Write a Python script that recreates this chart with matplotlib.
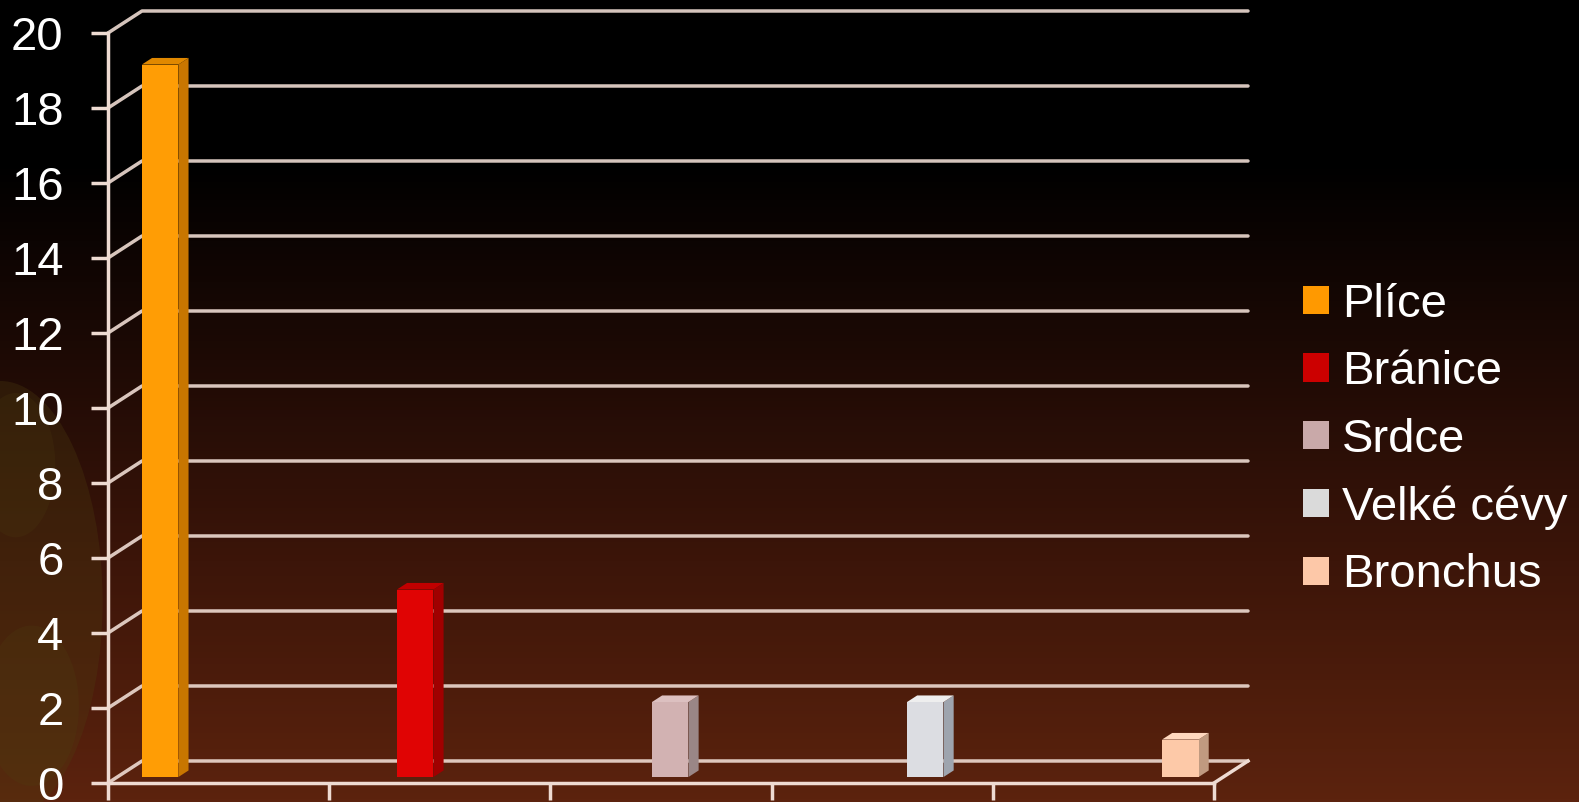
import matplotlib
matplotlib.use('Agg')
import matplotlib.pyplot as plt
from matplotlib.patches import Polygon, Patch, Ellipse
from matplotlib.colors import LinearSegmentedColormap
import numpy as np

# data
labels = ['Plíce', 'Bránice', 'Srdce', 'Velké cévy', 'Bronchus']
values = [19, 5, 2, 2, 1]
legend_colors = ['#ff9900', '#cc0000', '#c9a9a9', '#dadada', '#fdc8a8']
front_colors = ['#ff9d05', '#e00404', '#d2b2b2', '#dcdde2', '#fdc9a8']
side_colors = ['#c87600', '#a00000', '#9a8686', '#9ea4ae', '#c09a80']
top_colors = ['#e08800', '#c00000', '#dcc0c0', '#eeeeee', '#ffd8bf']
yticks = list(range(0, 21, 2))

n = len(values)
# oblique depth of the 3d box, in data units
DX, DY = 0.1537, 0.587
slot = 0.153
bar_w = 0.165
d0, d1 = 0.27, 0.57   # bar depth range as fraction of box depth

fig = plt.figure(figsize=(15.79, 8.02), dpi=100)

# background gradient (row 0 = top)
bg = fig.add_axes([0, 0, 1, 1], zorder=-2)
cmap = LinearSegmentedColormap.from_list('bg', [(0, '#000000'), (0.2, '#000000'), (0.45, '#1e0a05'),
                                                 (0.7, '#3c1509'), (1.0, '#5c230e')])
grad = np.linspace(0, 1, 256).reshape(-1, 1)
bg.imshow(grad, aspect='auto', cmap=cmap, extent=[0, 1, 0, 1], origin='upper')
# faint olive decoration on the left
for (cx, cy, w, h, a) in [(0.0, 0.25, 0.13, 0.55, 0.3), (0.02, 0.12, 0.06, 0.2, 0.25),
                          (0.01, 0.42, 0.05, 0.18, 0.2)]:
    bg.add_patch(Ellipse((cx, cy), w, h, color='#4e3e10', alpha=a, lw=0))
bg.set_xlim(0, 1)
bg.set_ylim(0, 1)
bg.axis('off')

ax = fig.add_axes([108/1579, 19/802, 1106/1579, 750/802])
ax.set_facecolor('none')
ax.set_xlim(0, n)
ax.set_ylim(0, 20)

gc = '#eedbd2'
for v in yticks:
    ax.plot([0, DX, n + DX], [v, v + DY, v + DY], color=gc, lw=2.5, alpha=0.9,
            clip_on=False, zorder=1, solid_capstyle='round')
ax.plot([n, n + DX], [0, DY], color=gc, lw=2.5, clip_on=False, zorder=1)

# bars, series k sits in category k (clustered layout)
for k in range(n):
    c = k + 0.5 + (k - (n - 1) / 2) * slot
    x0, x1 = c - bar_w / 2, c + bar_w / 2
    ox, oy = d0 * DX, d0 * DY
    bx, by = (d1 - d0) * DX, (d1 - d0) * DY
    v = values[k]
    front = [(x0 + ox, oy), (x1 + ox, oy), (x1 + ox, v + oy), (x0 + ox, v + oy)]
    side = [(x1 + ox, oy), (x1 + ox + bx, oy + by), (x1 + ox + bx, v + oy + by), (x1 + ox, v + oy)]
    top = [(x0 + ox, v + oy), (x1 + ox, v + oy), (x1 + ox + bx, v + oy + by), (x0 + ox + bx, v + oy + by)]
    ax.add_patch(Polygon(side, closed=True, color=side_colors[k], lw=0, zorder=3, clip_on=False))
    ax.add_patch(Polygon(front, closed=True, color=front_colors[k], lw=0, zorder=3, clip_on=False))
    ax.add_patch(Polygon(top, closed=True, color=top_colors[k], lw=0, zorder=3, clip_on=False))

for s in ['top', 'right']:
    ax.spines[s].set_visible(False)
for s in ['left', 'bottom']:
    ax.spines[s].set_color(gc)
    ax.spines[s].set_linewidth(2.5)

ax.set_xticks(range(n + 1))
ax.set_xticklabels([])
ax.set_yticks(yticks)
ax.set_yticklabels([str(t) for t in yticks], fontsize=34, color='white', family='Liberation Sans')
ax.tick_params(axis='both', direction='out', length=12, width=2.5, color=gc)
ax.tick_params(axis='y', pad=20)

handles = [Patch(facecolor=legend_colors[i], edgecolor='none') for i in range(n)]
leg = fig.legend(handles, labels, loc='center left', bbox_to_anchor=(1303/1579, 1 - 440/802),
                 frameon=False, labelcolor='white', borderaxespad=0, borderpad=0,
                 handlelength=0.55, handleheight=0.55, handletextpad=0.27, labelspacing=0.5,
                 prop={'family': 'Liberation Sans', 'size': 34})

plt.savefig('out.png', dpi=100)
